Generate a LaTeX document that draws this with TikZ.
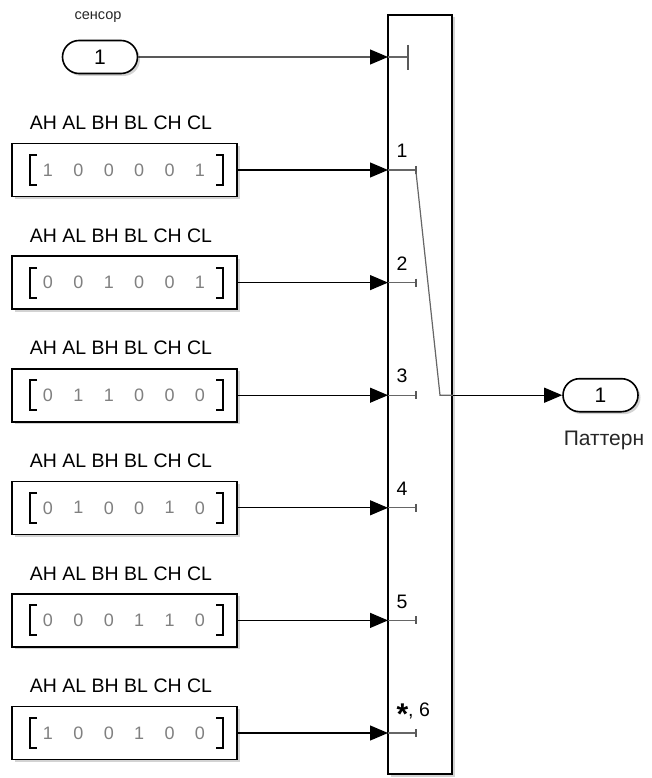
\documentclass[tikz,border=0pt]{standalone}
\usepackage{fontspec}
\setmainfont{Liberation Sans}
\usetikzlibrary{arrows.meta,positioning,shadows,shapes.misc}

\tikzset{
  blk/.style={draw, line width=1.6pt, fill=white, inner sep=0pt,
    drop shadow={shadow xshift=2.5pt, shadow yshift=-2.5pt, opacity=0.35}},
  constbox/.style={blk, minimum width=225pt, minimum height=53pt},
  portpill/.style={blk, rounded rectangle, minimum width=75pt, minimum height=33pt,
    font=\fontsize{21}{21}\selectfont},
  conn/.style={line width=1.2pt, -{Triangle[length=18pt,width=15pt]}},
  inner/.style={line width=1.2pt, black!60},
  tick/.style={line width=2pt, black!65},
  lbl/.style={font=\fontsize{19.5}{19.5}\selectfont},
  bit/.style={font=\fontsize{18}{18}\selectfont, text=black!50}
}

\begin{document}
\begin{tikzpicture}[x=1pt, y=-1pt]
    \useasboundingbox (0,0) rectangle (651,778);

    % Multiport switch
    \node[blk, minimum width=64pt, minimum height=759pt] (sw) at (420,394.5) {};
    \coordinate (in0) at (388,57);

    % Control input (sensor)
    \node[portpill] (sens) at (100,57) {1};
    \node[font=\fontsize{14.5}{14.5}\selectfont, black!85] (senslbl) at (98,17) {сенсор};
    \draw[conn] (sens) -- (in0);
    \draw[inner] (in0) -- (408,57);
    \draw[tick] (408,45) -- (408,70);

    % Constant patterns
    \foreach \i/\bits/\plbl in {1/{1,0,0,0,0,1}/1, 2/{0,0,1,0,0,1}/2, 3/{0,1,1,0,0,0}/3,
                                4/{0,1,0,0,1,0}/4, 5/{0,0,0,1,1,0}/5,
                                6/{1,0,0,1,0,0}/{\raisebox{-8pt}{\fontsize{30}{30}\selectfont\bfseries *}, 6}} {
        \pgfmathsetmacro\ry{170+112.6*(\i-1)}
        \node[constbox] (c\i) at (124.5,\ry) {};
        \node[lbl] (h\i) at (121,\ry-47) {AH AL BH BL CH CL};
        % brackets
        \draw[line width=2pt] (37,\ry-15) -- (30,\ry-15) -- (30,\ry+15) -- (37,\ry+15);
        \draw[line width=2pt] (216,\ry-15) -- (223,\ry-15) -- (223,\ry+15) -- (216,\ry+15);
        \foreach \b [count=\k] in \bits {
            \node[bit] at (48+30.4*\k-30.4,\ry) {\b};
        }
        \coordinate (in\i) at (388,\ry);
        \draw[conn] (c\i) -- (in\i);
        \draw[inner] (in\i) -- (416,\ry);
        \draw[tick] (416,\ry-4) -- (416,\ry+4);
        \node[lbl, anchor=west] (p\i) at (393,\ry-19) {\plbl};
    }

    % Switch position
    \draw[inner] (416,172) -- (440,395.2) -- (sw.east |- 0,395.2);

    % Output
    \node[portpill] (out) at (600.5,395.2) {1};
    \node[font=\fontsize{21}{21}\selectfont, black!85] (outlbl) at (604,440) {Паттерн};
    \draw[conn] (sw.east |- out) -- (out);
\end{tikzpicture}
\end{document}
